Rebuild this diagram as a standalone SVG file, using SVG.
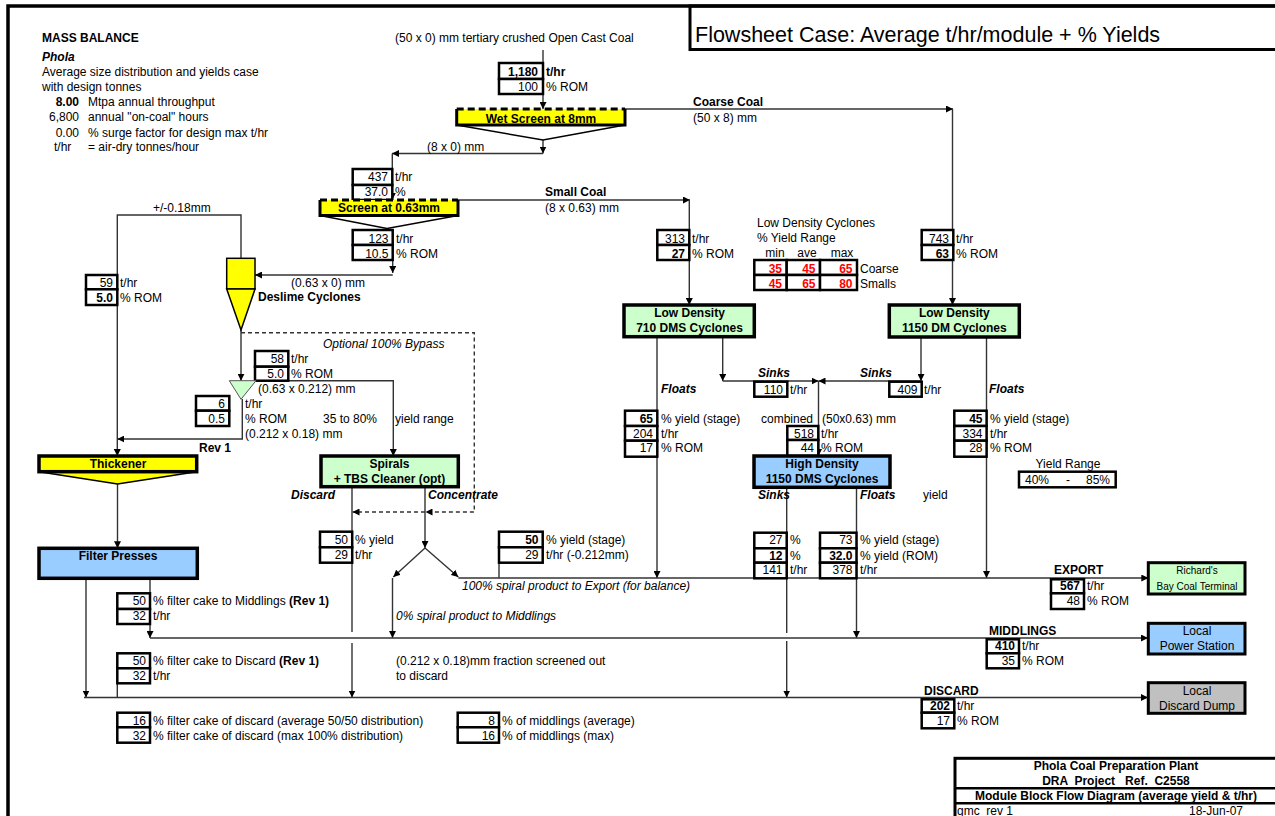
<svg xmlns="http://www.w3.org/2000/svg" width="1275" height="816" viewBox="0 0 1275 816">
<style>
text{font-family:"Liberation Sans",Arial,sans-serif;font-size:12px;fill:#000}
.b{font-weight:bold}
.i{font-style:italic}
.bi{font-weight:bold;font-style:italic}
.red{font-weight:bold;fill:#ff0000}
.e{text-anchor:end}
.m{text-anchor:middle}
.sm{font-size:10px}
.vb{fill:#fff;stroke:#000;stroke-width:2.5}
.nd{stroke:#000;stroke-width:3.5}
.thin{stroke:#000;stroke-width:1.5}
.y{fill:#ffff00}
.g{fill:#ccffcc}
.bl{fill:#99ccff}
.gr{fill:#c0c0c0}
.c{fill:none;stroke:#333;stroke-width:1.4}
.ca{fill:none;stroke:#333;stroke-width:1.4;marker-end:url(#ah)}
.d{stroke-dasharray:4 3}
</style>
<defs>
<marker id="ah" viewBox="0 0 10 10" refX="10" refY="5" markerWidth="7" markerHeight="7" markerUnits="userSpaceOnUse" orient="auto"><path d="M0,0 L10,5 L0,10 z" fill="#000"/></marker>
</defs>
<rect width="1275" height="816" fill="#fff"/>

<g id="frame">
<path d="M8,816 V6 H1275" fill="none" stroke="#000" stroke-width="3.5"/>
<rect x="690" y="6" width="590" height="43.5" fill="none" stroke="#000" stroke-width="3"/>
<text x="695" y="42" style="font-size:21.5px">Flowsheet Case: Average t/hr/module + % Yields</text>
</g>

<g id="notes">
<text x="42" y="42" class="b">MASS BALANCE</text>
<text x="42" y="61" class="bi">Phola</text>
<text x="42" y="76">Average size distribution and yields case</text>
<text x="42" y="91">with design tonnes</text>
<text x="79" y="106" class="b e">8.00</text><text x="88" y="106">Mtpa annual throughput</text>
<text x="79" y="121" class="e">6,800</text><text x="88" y="121">annual "on-coal" hours</text>
<text x="79" y="137" class="e">0.00</text><text x="88" y="137">% surge factor for design max t/hr</text>
<text x="54" y="151">t/hr</text><text x="88" y="151">= air-dry tonnes/hour</text>
</g>

<g id="connectors">
<path class="ca" d="M543,50 V109"/>
<path class="ca" d="M625,109 H953"/>
<path class="ca" d="M952.5,109 V305"/>
<path class="ca" d="M543,140 V153.5"/>
<path class="ca" d="M543,153.5 H392"/>
<path class="ca" d="M392.3,153.5 V200"/>
<path class="ca" d="M458,200 H690"/>
<path class="ca" d="M689.3,200 V305"/>
<path class="ca" d="M392.7,260 V273"/>
<path class="ca" d="M392.7,275 H255"/>
<path class="ca" d="M241,258 V215 H117.3 V456"/>
<path class="ca" d="M241,330 V380.7"/>
<path class="ca d" d="M241,332.7 H474.3 V512 H425.5"/>
<path class="ca d" d="M425,512 H352.5"/>
<path class="ca" d="M256,380.7 H393.3 V456"/>
<path class="ca" d="M242.3,399 V439 H117.3"/>
<path class="ca" d="M117.5,484 V548.3"/>
<path class="ca" d="M86,578.3 V697.5"/>
<path class="ca" d="M150,578.3 V638"/>
<path class="c" d="M352,486.7 V632"/>
<path class="ca" d="M352,643 V697.5"/>
<path class="ca" d="M425,486.7 V548"/>
<path class="ca" d="M425,548 L393.3,577"/>
<path class="ca" d="M425,548 L458.3,577"/>
<path class="ca" d="M392.5,578 V638"/>
<path class="ca" d="M657,337 V578"/>
<path class="ca" d="M722.7,337 V381"/>
<path class="ca" d="M722.7,381 H818.5"/>
<path class="ca" d="M921,337 V381"/>
<path class="ca" d="M921,381 H818.5"/>
<path class="ca" d="M818.5,381 V456"/>
<path class="ca" d="M986.5,337 V578"/>
<path class="c" d="M786.7,487.3 V633"/>
<path class="ca" d="M786.7,641 V697.5"/>
<path class="ca" d="M856.5,487.3 V638"/>
<path class="ca" d="M458.3,578 H1148.3"/>
<path class="ca" d="M150,638 H1148"/>
<path class="ca" d="M84,697.5 H1148"/>
<path class="c" d="M117.3,683.3 V697.5"/>
<path class="c" d="M499,562.7 V578"/>
</g>

<g id="labels">
<text x="395" y="42">(50 x 0) mm tertiary crushed Open Cast Coal</text>
<text x="693" y="106" class="b">Coarse Coal</text>
<text x="693" y="122">(50 x 8) mm</text>
<text x="427" y="151">(8 x 0) mm</text>
<text x="545" y="196" class="b">Small Coal</text>
<text x="545" y="212">(8 x 0.63) mm</text>
<text x="153" y="212">+/-0.18mm</text>
<text x="291" y="287">(0.63 x 0) mm</text>
<text x="258" y="301" class="b">Deslime Cyclones</text>
<text x="323" y="348" class="i">Optional 100% Bypass</text>
<text x="258" y="393">(0.63 x 0.212) mm</text>
<text x="245" y="408">t/hr</text>
<text x="245" y="423">% ROM</text>
<text x="323" y="423">35 to 80%</text>
<text x="395" y="423">yield range</text>
<text x="245" y="438">(0.212 x 0.18) mm</text>
<text x="199" y="452" class="b">Rev 1</text>
<text x="291" y="499" class="bi">Discard</text>
<text x="428" y="499" class="bi">Concentrate</text>
<text x="462" y="590" class="i">100% spiral product to Export (for balance)</text>
<text x="396" y="620" class="i">0% spiral product to Middlings</text>
<text x="396" y="665">(0.212 x 0.18)mm fraction screened out</text>
<text x="396" y="680">to discard</text>
<text x="758" y="377" class="bi">Sinks</text>
<text x="860" y="377" class="bi">Sinks</text>
<text x="661" y="393" class="bi">Floats</text>
<text x="989" y="393" class="bi">Floats</text>
<text x="761" y="423">combined</text>
<text x="822" y="423">(50x0.63) mm</text>
<text x="758" y="499" class="bi">Sinks</text>
<text x="860" y="499" class="bi">Floats</text>
<text x="923" y="499">yield</text>
<text x="1054" y="574" class="b">EXPORT</text>
<text x="989" y="635" class="b">MIDDLINGS</text>
<text x="924" y="695" class="b">DISCARD</text>
</g>

<g id="yield-table">
<text x="757" y="227">Low Density Cyclones</text>
<text x="757" y="242">% Yield Range</text>
<text x="775" y="257" class="m">min</text>
<text x="807" y="257" class="m">ave</text>
<text x="842" y="257" class="m">max</text>
<rect class="vb" x="754.3" y="260" width="32.4" height="15"/>
<rect class="vb" x="786.7" y="260" width="33.3" height="15"/>
<rect class="vb" x="820" y="260" width="37" height="15"/>
<rect class="vb" x="754.3" y="275" width="32.4" height="15"/>
<rect class="vb" x="786.7" y="275" width="33.3" height="15"/>
<rect class="vb" x="820" y="275" width="37" height="15"/>
<text x="782" y="272.5" class="red e">35</text>
<text x="815.5" y="272.5" class="red e">45</text>
<text x="852.5" y="272.5" class="red e">65</text>
<text x="782" y="287.5" class="red e">45</text>
<text x="815.5" y="287.5" class="red e">65</text>
<text x="852.5" y="287.5" class="red e">80</text>
<text x="860" y="272.5">Coarse</text>
<text x="860" y="287.5">Smalls</text>
</g>

<g id="yield-range">
<text x="1068" y="468" class="m">Yield Range</text>
<rect class="vb" x="1019" y="471.7" width="96.7" height="15.6"/>
<text x="1025" y="483.5">40%</text>
<text x="1068" y="483.5" class="m">-</text>
<text x="1086" y="483.5">85%</text>
</g>

<g id="vb-feed">
<rect class="vb" x="499" y="63" width="44" height="16"/>
<rect class="vb" x="499" y="79" width="44" height="15"/>
<text x="538" y="76" class="b e">1,180</text>
<text x="538" y="91" class="e">100</text>
<text x="546" y="76" class="b">t/hr</text>
<text x="546" y="91">% ROM</text>
</g>

<g id="n-wetscreen">
<rect class="y" x="456.7" y="109" width="168.3" height="16"/>
<path d="M456.7,109 V125 H625 V109" fill="none" stroke="#000" stroke-width="3"/>
<path d="M456.7,109 H625" fill="none" stroke="#000" stroke-width="3" stroke-dasharray="7 4"/>
<path d="M456.7,125 L543,140 L625,125" fill="none" class="thin"/>
<text x="541" y="122.5" class="b m">Wet Screen at 8mm</text>
</g>

<g id="vb-437">
<rect class="vb" x="352.7" y="169" width="39.6" height="16"/>
<rect class="vb" x="352.7" y="185" width="39.6" height="15"/>
<text x="388" y="181" class="e">437</text>
<text x="388" y="196" class="e">37.0</text>
<text x="395" y="181">t/hr</text>
<text x="395" y="196">%</text>
</g>

<g id="n-screen063">
<rect class="y" x="320" y="200" width="138" height="15.5"/>
<path d="M320,200 V215.5 H458 V200" fill="none" stroke="#000" stroke-width="3"/>
<path d="M320,200 H458" fill="none" stroke="#000" stroke-width="3" stroke-dasharray="7 4"/>
<path d="M320,215.5 L387,228.5 L458,215.5" fill="none" class="thin"/>
<text x="389" y="211.5" class="b m">Screen at 0.63mm</text>
</g>

<g id="vb-123">
<rect class="vb" x="352.7" y="230" width="40" height="15"/>
<rect class="vb" x="352.7" y="245" width="40" height="15"/>
<text x="388.5" y="242.5" class="e">123</text>
<text x="388.5" y="257.5" class="e">10.5</text>
<text x="396" y="242.5">t/hr</text>
<text x="396" y="257.5">% ROM</text>
</g>

<g id="vb-313">
<rect class="vb" x="657.3" y="230" width="32" height="15"/>
<rect class="vb" x="657.3" y="245" width="32" height="15"/>
<text x="685" y="242.5" class="e">313</text>
<text x="685" y="257.5" class="b e">27</text>
<text x="692" y="242.5">t/hr</text>
<text x="692" y="257.5">% ROM</text>
</g>

<g id="vb-743">
<rect class="vb" x="921.7" y="230" width="31.6" height="15"/>
<rect class="vb" x="921.7" y="245" width="31.6" height="15"/>
<text x="949" y="242.5" class="e">743</text>
<text x="949" y="257.5" class="b e">63</text>
<text x="956" y="242.5">t/hr</text>
<text x="956" y="257.5">% ROM</text>
</g>

<g id="n-deslime">
<rect class="y thin" x="226.7" y="258.3" width="28.3" height="30.7"/>
<path class="y thin" d="M226.7,289 L255,289 L241,330 z"/>
</g>

<g id="vb-59">
<rect class="vb" x="86" y="275" width="31.3" height="14.3"/>
<rect class="vb" x="86" y="289.3" width="31.3" height="15.7"/>
<text x="113" y="287" class="e">59</text>
<text x="113" y="301.5" class="b e">5.0</text>
<text x="120" y="287">t/hr</text>
<text x="120" y="301.5">% ROM</text>
</g>

<g id="vb-58">
<rect class="vb" x="255" y="351" width="33.3" height="15.7"/>
<rect class="vb" x="255" y="366.7" width="33.3" height="14"/>
<text x="284" y="363.3" class="e">58</text>
<text x="284" y="378.3" class="e">5.0</text>
<text x="291" y="363.3">t/hr</text>
<text x="291" y="378.3">% ROM</text>
</g>

<g id="n-classifier">
<path class="g" d="M229.3,380.7 L256,380.7 L241,399.3 z" stroke="#555" stroke-width="1"/>
</g>

<g id="vb-6">
<rect class="vb" x="196" y="396" width="33.3" height="14.7"/>
<rect class="vb" x="196" y="410.7" width="33.3" height="15.3"/>
<text x="225" y="408" class="e">6</text>
<text x="225" y="423" class="e">0.5</text>
</g>

<g id="n-thickener">
<path class="y thin" d="M39,471.7 L117.5,484 L196.7,471.7 z"/>
<rect class="y nd" x="39" y="456" width="157.7" height="15.7"/>
<text x="118" y="468" class="b m">Thickener</text>
</g>

<g id="n-filter">
<rect class="bl nd" x="39" y="548.3" width="158.3" height="30"/>
<text x="118" y="560" class="b m">Filter Presses</text>
</g>

<g id="n-spirals">
<rect class="g nd" x="321" y="456" width="137.3" height="30.7"/>
<text x="389.5" y="468" class="b m">Spirals</text>
<text x="389.5" y="483" class="b m">+ TBS Cleaner (opt)</text>
</g>

<g id="vb-50y">
<rect class="vb" x="320" y="531.7" width="32.2" height="15.6"/>
<rect class="vb" x="320" y="547.3" width="32.2" height="15.4"/>
<text x="348" y="543.6" class="e">50</text>
<text x="348" y="559.3" class="e">29</text>
<text x="355" y="543.6">% yield</text>
<text x="355" y="559.3">t/hr</text>
</g>

<g id="vb-50s">
<rect class="vb" x="499" y="531.7" width="43.7" height="15.6"/>
<rect class="vb" x="499" y="547.3" width="43.7" height="15.4"/>
<text x="538.5" y="543.6" class="b e">50</text>
<text x="538.5" y="559.3" class="e">29</text>
<text x="546" y="543.6">% yield (stage)</text>
<text x="546" y="559.3">t/hr (-0.212mm)</text>
</g>

<g id="n-ld710">
<rect class="g nd" x="624" y="305" width="130.3" height="31.7"/>
<text x="689.5" y="317" class="b m">Low Density</text>
<text x="689.5" y="332" class="b m">710 DMS Cyclones</text>
</g>

<g id="n-ld1150">
<rect class="g nd" x="889.3" y="305" width="130" height="32"/>
<text x="954.3" y="317" class="b m">Low Density</text>
<text x="954.3" y="332" class="b m">1150 DM Cyclones</text>
</g>

<g id="vb-110">
<rect class="vb" x="754.3" y="381.7" width="33" height="15"/>
<text x="783" y="393.6" class="e">110</text>
<text x="790" y="393.6">t/hr</text>
</g>

<g id="vb-409">
<rect class="vb" x="889.3" y="381.7" width="32.4" height="15"/>
<text x="917.5" y="393.6" class="e">409</text>
<text x="924" y="393.6">t/hr</text>
</g>

<g id="vb-65">
<rect class="vb" x="625" y="410.7" width="32.3" height="15.3"/>
<rect class="vb" x="625" y="426" width="32.3" height="14.7"/>
<rect class="vb" x="625" y="440.7" width="32.3" height="16"/>
<text x="653" y="423.3" class="b e">65</text>
<text x="653" y="437.6" class="e">204</text>
<text x="653" y="452" class="e">17</text>
<text x="661" y="423.3">% yield (stage)</text>
<text x="661" y="437.6">t/hr</text>
<text x="661" y="452">% ROM</text>
</g>

<g id="vb-45">
<rect class="vb" x="954.3" y="410.7" width="32.3" height="15.3"/>
<rect class="vb" x="954.3" y="426" width="32.3" height="14.7"/>
<rect class="vb" x="954.3" y="440.7" width="32.3" height="16"/>
<text x="982.5" y="423.3" class="b e">45</text>
<text x="982.5" y="437.6" class="e">334</text>
<text x="982.5" y="452" class="e">28</text>
<text x="990" y="423.3">% yield (stage)</text>
<text x="990" y="437.6">t/hr</text>
<text x="990" y="452">% ROM</text>
</g>

<g id="vb-518">
<rect class="vb" x="787.3" y="426" width="31" height="14"/>
<rect class="vb" x="787.3" y="440" width="31" height="16"/>
<text x="814" y="437.6" class="e">518</text>
<text x="814" y="452" class="e">44</text>
<text x="821" y="437.6">t/hr</text>
<text x="821" y="452">% ROM</text>
</g>

<g id="n-hd">
<rect class="bl nd" x="754" y="456" width="136" height="31.3"/>
<text x="822" y="468" class="b m">High Density</text>
<text x="822" y="482.5" class="b m">1150 DMS Cyclones</text>
</g>

<g id="vb-27">
<rect class="vb" x="754.3" y="532.7" width="32.4" height="15.6"/>
<rect class="vb" x="754.3" y="548.3" width="32.4" height="14.4"/>
<rect class="vb" x="754.3" y="562.7" width="32.4" height="15.6"/>
<text x="782.5" y="544.3" class="e">27</text>
<text x="782.5" y="560.3" class="b e">12</text>
<text x="782.5" y="574" class="e">141</text>
<text x="790" y="544.3">%</text>
<text x="790" y="560.3">%</text>
<text x="790" y="574">t/hr</text>
</g>

<g id="vb-73">
<rect class="vb" x="820" y="532.7" width="36.5" height="15.6"/>
<rect class="vb" x="820" y="548.3" width="36.5" height="14.4"/>
<rect class="vb" x="820" y="562.7" width="36.5" height="15.6"/>
<text x="852.5" y="544.3" class="e">73</text>
<text x="852.5" y="560.3" class="b e">32.0</text>
<text x="852.5" y="574" class="e">378</text>
<text x="860" y="544.3">% yield (stage)</text>
<text x="860" y="560.3">% yield (ROM)</text>
<text x="860" y="574">t/hr</text>
</g>

<g id="vb-567">
<rect class="vb" x="1051" y="579.3" width="33" height="14"/>
<rect class="vb" x="1051" y="593.3" width="33" height="15.7"/>
<text x="1080" y="590.3" class="b e">567</text>
<text x="1080" y="605.3" class="e">48</text>
<text x="1087" y="590.3">t/hr</text>
<text x="1087" y="605.3">% ROM</text>
</g>

<g id="vb-410">
<rect class="vb" x="986.7" y="639.3" width="32.3" height="14"/>
<rect class="vb" x="986.7" y="653.3" width="32.3" height="15"/>
<text x="1015" y="650.3" class="b e">410</text>
<text x="1015" y="665" class="e">35</text>
<text x="1022" y="650.3">t/hr</text>
<text x="1022" y="665">% ROM</text>
</g>

<g id="vb-202">
<rect class="vb" x="921.7" y="699.3" width="32.6" height="13.4"/>
<rect class="vb" x="921.7" y="712.7" width="32.6" height="15.6"/>
<text x="950" y="710" class="b e">202</text>
<text x="950" y="725.3" class="e">17</text>
<text x="957" y="710">t/hr</text>
<text x="957" y="725.3">% ROM</text>
</g>

<g id="n-richards">
<rect class="g" x="1148.3" y="562.7" width="96.7" height="31.3" stroke="#000" stroke-width="3"/>
<text x="1197" y="574" class="m sm">Richard's</text>
<text x="1197" y="590" class="m sm">Bay Coal Terminal</text>
</g>

<g id="n-power">
<rect class="bl" x="1148.3" y="623.3" width="96.7" height="30.7" stroke="#000" stroke-width="3"/>
<text x="1197" y="635" class="m">Local</text>
<text x="1197" y="650" class="m">Power Station</text>
</g>

<g id="n-dump">
<rect class="gr" x="1148.3" y="682.7" width="96.7" height="30.6" stroke="#000" stroke-width="3"/>
<text x="1197" y="695" class="m">Local</text>
<text x="1197" y="710" class="m">Discard Dump</text>
</g>

<g id="vb-fc-mid">
<rect class="vb" x="117.3" y="593.3" width="32.7" height="15.7"/>
<rect class="vb" x="117.3" y="609" width="32.7" height="15"/>
<text x="146" y="605.3" class="e">50</text>
<text x="146" y="620.3" class="e">32</text>
<text x="153" y="605.3">% filter cake to Middlings <tspan class="b">(Rev 1)</tspan></text>
<text x="153" y="620.3">t/hr</text>
</g>

<g id="vb-fc-dis">
<rect class="vb" x="117.3" y="653.3" width="32.7" height="15"/>
<rect class="vb" x="117.3" y="668.3" width="32.7" height="15"/>
<text x="146" y="665" class="e">50</text>
<text x="146" y="680" class="e">32</text>
<text x="153" y="665">% filter cake to Discard <tspan class="b">(Rev 1)</tspan></text>
<text x="153" y="680">t/hr</text>
</g>

<g id="vb-fc-16">
<rect class="vb" x="117.3" y="712.7" width="32.7" height="14.6"/>
<rect class="vb" x="117.3" y="727.3" width="32.7" height="15.4"/>
<text x="146" y="725.3" class="e">16</text>
<text x="146" y="740.3" class="e">32</text>
<text x="153" y="725.3">% filter cake of discard (average 50/50 distribution)</text>
<text x="153" y="740.3">% filter cake of discard (max 100% distribution)</text>
</g>

<g id="vb-mid-8">
<rect class="vb" x="457.7" y="712.7" width="41.3" height="14.6"/>
<rect class="vb" x="457.7" y="727.3" width="41.3" height="15.4"/>
<text x="495" y="725.3" class="e">8</text>
<text x="495" y="740.3" class="e">16</text>
<text x="502" y="725.3">% of middlings (average)</text>
<text x="502" y="740.3">% of middlings (max)</text>
</g>

<g id="title-block">
<rect x="955" y="758.3" width="330" height="70" fill="none" stroke="#000" stroke-width="3"/>
<path d="M955,788.3 H1275 M955,803.3 H1275" stroke="#000" stroke-width="2.5"/>
<text x="1116" y="770" class="b m">Phola Coal Preparation Plant</text>
<text x="1116" y="785" class="b m" xml:space="preserve">DRA  Project   Ref.  C2558</text>
<text x="1116" y="800" class="b m">Module Block Flow Diagram (average yield &amp; t/hr)</text>
<text x="957" y="815" xml:space="preserve">gmc  rev 1</text>
<text x="1189" y="815">18-Jun-07</text>
</g>
</svg>
